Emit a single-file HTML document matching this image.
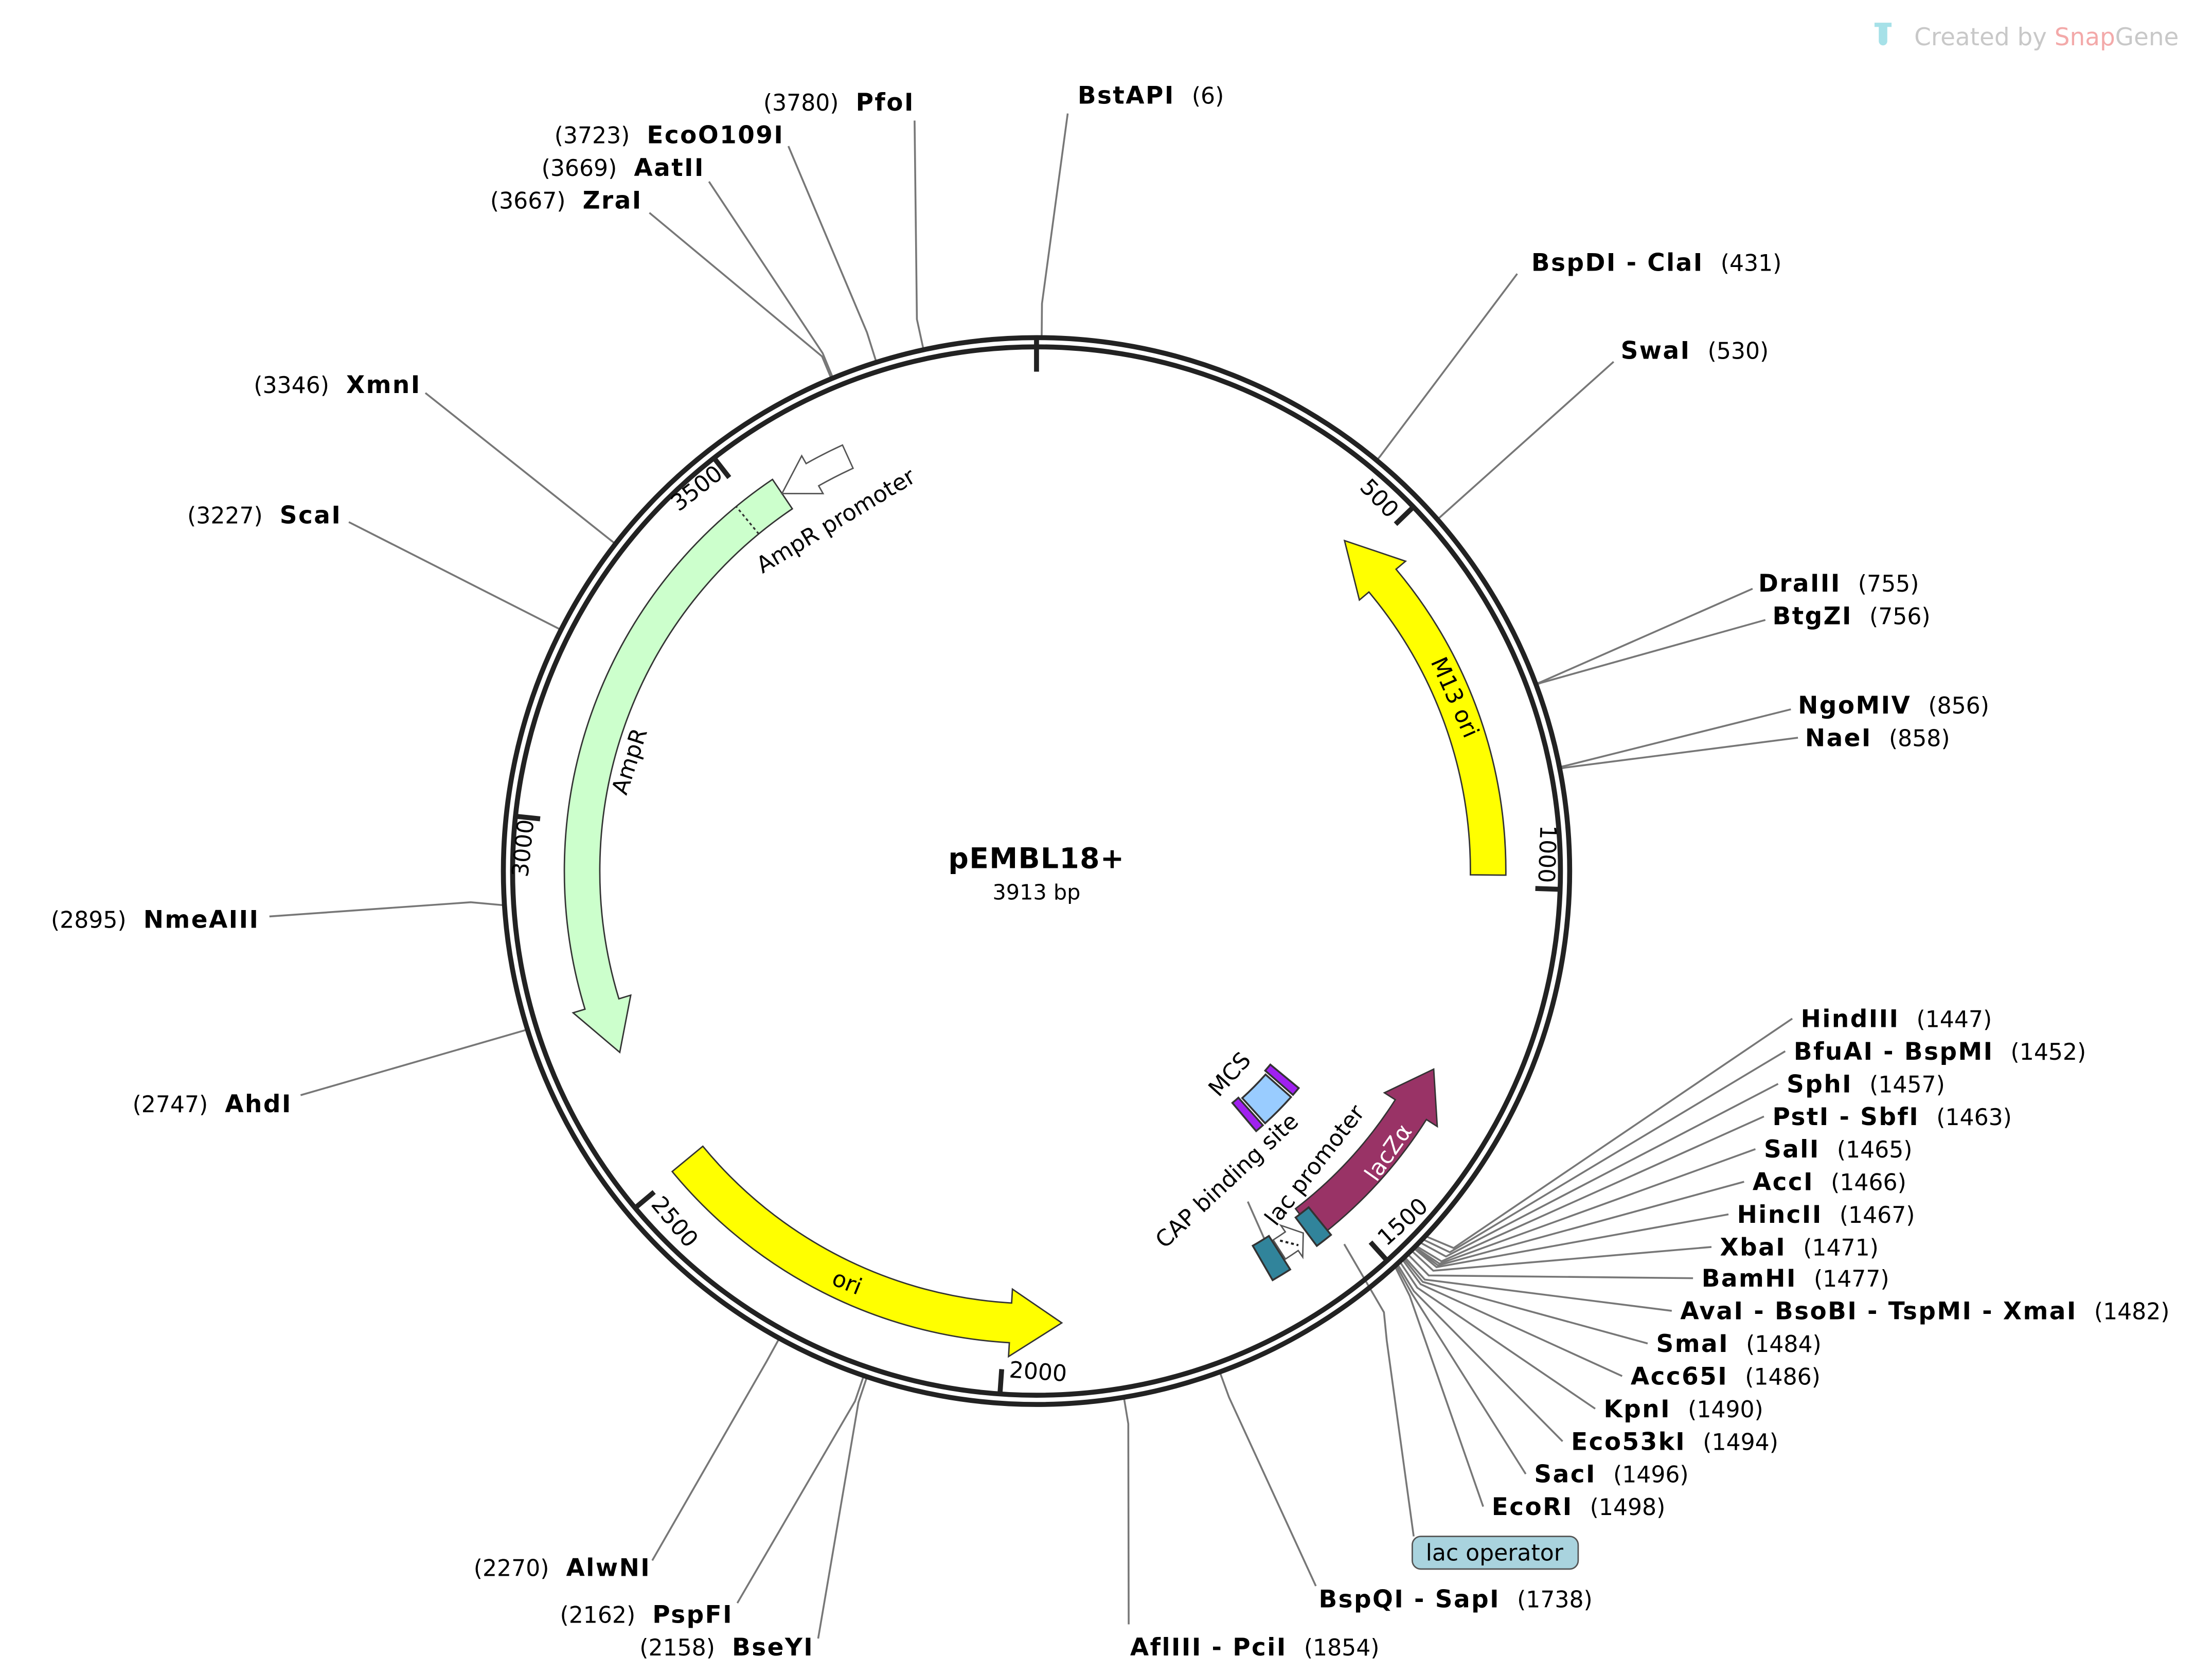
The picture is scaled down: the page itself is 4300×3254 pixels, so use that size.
<!DOCTYPE html>
<html><head><meta charset="utf-8">
<style>
html,body{margin:0;padding:0;background:#fff;}
svg{display:block;}
text{font-family:"DejaVu Sans","Liberation Sans",sans-serif;font-size:16px;fill:#000;}
.b{font-weight:bold;font-size:17px;letter-spacing:0.9px;}
</style></head>
<body>
<svg id="s" xmlns="http://www.w3.org/2000/svg" width="4300" height="3254" viewBox="0 0 1560 1180" preserveAspectRatio="none">
<rect width="1560" height="1180" fill="#fff"/>
<g id="lines" stroke="#777" stroke-width="1.3" fill="none"></g>
<circle cx="731" cy="614" r="376" fill="none" stroke="#222" stroke-width="3.5"/>
<circle cx="731" cy="614" r="369.5" fill="none" stroke="#222" stroke-width="3.5"/>
<g id="ticks" stroke="#222" stroke-width="3.5"></g>
<g id="feat"></g>

<text x="972" y="352" text-anchor="middle" dominant-baseline="middle" transform="rotate(46 972 352)">500</text>
<text x="1090" y="602" text-anchor="middle" dominant-baseline="middle" transform="rotate(92 1090 602)">1000</text>
<text x="990" y="862" text-anchor="middle" dominant-baseline="middle" transform="rotate(-42 990 862)">1500</text>
<text x="732" y="968" text-anchor="middle" dominant-baseline="middle" transform="rotate(4 732 968)">2000</text>
<text x="475" y="862" text-anchor="middle" dominant-baseline="middle" transform="rotate(50 475 862)">2500</text>
<text x="370" y="598" text-anchor="middle" dominant-baseline="middle" transform="rotate(-84 370 598)">3000</text>
<text x="492" y="345" text-anchor="middle" dominant-baseline="middle" transform="rotate(-38 492 345)">3500</text>

<text x="731" y="612" text-anchor="middle" style="font-size:20px;font-weight:bold;letter-spacing:0.5px">pEMBL18+</text>
<text x="731" y="634" text-anchor="middle" style="font-size:15px">3913 bp</text>

<g id="lab2">
<text x="1025" y="492" text-anchor="middle" dominant-baseline="middle" transform="rotate(66 1025 492)">M13 ori</text>
<text x="597" y="905" text-anchor="middle" dominant-baseline="middle" transform="rotate(22 597 905)">ori</text>
<text x="445" y="537" text-anchor="middle" dominant-baseline="middle" transform="rotate(-72 445 537)">AmpR</text>
<text x="590" y="368" text-anchor="middle" dominant-baseline="middle" transform="rotate(-31 590 368)">AmpR promoter</text>
<text x="980" y="813" text-anchor="middle" dominant-baseline="middle" transform="rotate(-55 980 813)" style="fill:#fff">lacZα</text>
<text x="868" y="758" text-anchor="middle" dominant-baseline="middle" transform="rotate(-48 868 758)">MCS</text>
<text x="866" y="833" text-anchor="middle" dominant-baseline="middle" transform="rotate(-43 866 833)">CAP binding site</text>
<text x="928" y="822" text-anchor="middle" dominant-baseline="middle" transform="rotate(-52 928 822)">lac promoter</text>
</g>

<rect x="996" y="1083" width="117" height="23" rx="6" fill="#a9d3de" stroke="#555" stroke-width="1"/>
<text x="1054" y="1100" text-anchor="middle">lac operator</text>

<g id="labs"></g>

<g transform="translate(1322,16)">
<path d="M0 0h12v3h-3v10a3 3 0 0 1-6 0V3H0z" fill="#a6e1e8"/>
</g>
<text x="1350" y="32" style="font-size:17px;fill:#c8c8c8">Created by <tspan style="fill:#f3a9a9">Snap</tspan><tspan style="fill:#c8c8c8">Gene</tspan></text>
</svg>
<script>
var NS="http://www.w3.org/2000/svg",cx=731,cy=614;
function P(r,a){a=a*Math.PI/180;return [cx+r*Math.sin(a),cy-r*Math.cos(a)];}
function ang(pos){return pos/3913*360;}
function el(t,attrs,parent){var e=document.createElementNS(NS,t);for(var k in attrs)e.setAttribute(k,attrs[k]);document.getElementById(parent).appendChild(e);return e;}
function f(p){return p[0].toFixed(2)+" "+p[1].toFixed(2);}
[0,500,1000,1500,2000,2500,3000,3500].forEach(function(p){var a=ang(p);var r1=p==0?377:369,r2=352;
 var A=P(r1,a),B=P(r2,a);el("line",{x1:A[0],y1:A[1],x2:B[0],y2:B[1]},"ticks");});
function arrow(rIn,rOut,tail,tip,head,fill,stroke){
 var s=tip>tail?1:-1,hb=tip-s*head,w=rOut-rIn,ext=w*0.35,rm=(rIn+rOut)/2,sw=s>0?1:0,sw2=s>0?0:1;
 var d="M"+f(P(rOut,tail))+" A"+rOut+" "+rOut+" 0 0 "+sw+" "+f(P(rOut,hb))+" L"+f(P(rOut+ext,hb))+" L"+f(P(rm,tip))+" L"+f(P(rIn-ext,hb))+" L"+f(P(rIn,hb))+" A"+rIn+" "+rIn+" 0 0 "+sw2+" "+f(P(rIn,tail))+"Z";
 return el("path",{d:d,fill:fill,stroke:stroke||"#333","stroke-width":1},"feat");}
function block(rIn,rOut,a1,a2,fill){
 var d="M"+f(P(rOut,a1))+" A"+rOut+" "+rOut+" 0 0 1 "+f(P(rOut,a2))+" L"+f(P(rIn,a2))+" A"+rIn+" "+rIn+" 0 0 0 "+f(P(rIn,a1))+"Z";
 el("path",{d:d,fill:fill,stroke:"#333","stroke-width":1.3},"feat");}
arrow(306,331,90.5,43,7,"#ffff00");
arrow(305,333,230.5,176.8,6.5,"#ffff00");
arrow(308,333,326,246.5,6.5,"#ccffcc");
var d1=P(308,320.5),d2=P(333,320.5);el("line",{x1:d1[0],y1:d1[1],x2:d2[0],y2:d2[1],stroke:"#333","stroke-dasharray":"2,2","stroke-width":1.2},"feat");
arrow(312,330,335.5,326,4.5,"#ffffff","#555");
arrow(300,326,142.5,116.5,6,"#993366","#333");
block(305,333,147.5,150.0,"#31849b");
block(305,330,141.0,143.2,"#31849b");
arrow(309,325,147.3,143.6,1.8,"#fff","#555");
var e1=P(312,146.6),e2=P(322,145.0);el("line",{x1:e1[0],y1:e1[1],x2:e2[0],y2:e2[1],stroke:"#222","stroke-dasharray":"2,2","stroke-width":1.5},"feat");
block(216,240,131.6,137.8,"#99ccff");
block(214,240,138.3,139.8,"#a020f0");
block(214,240,129.6,131.1,"#a020f0");
function L(pts){var d="M"+pts.map(function(p){return p[0]+" "+p[1];}).join(" L");el("path",{d:d},"lines");}
L([[880,847],[892,874]]);
L([[948,877],[976,925],[978,945],[997,1083]]);
function lab(cp,e2,end,x,y,parts,anchor){L([cp,e2,end]);var at={x:x,y:y};if(anchor)at["text-anchor"]=anchor;var t=el("text",at,"labs");
 parts.forEach(function(p,i){var ts=document.createElementNS(NS,"tspan");if(p[1])ts.setAttribute("class","b");if(i>0)ts.setAttribute("dx","12");ts.textContent=p[0];t.appendChild(ts);});}
function cpt(pos,r){return P(r||377,ang(pos));}
function A(n,b){return [[n,0],[b,1]];}
function B(b,n){return [[b,1],[n,0]];}
lab(cpt(3780),cpt(3780,398),[645,85],645,78,A("(3780)","PfoI"),"end");
lab(cpt(3723),cpt(3723,398),[556,103],553,101,A("(3723)","EcoO109I"),"end");
lab(cpt(3669),cpt(3669,395),[500,128],497,124,A("(3669)","AatII"),"end");
lab(cpt(3667),cpt(3667,393),[458,150],453,147,A("(3667)","ZraI"),"end");
lab(cpt(6),cpt(6,400),[753,80],760,73,B("BstAPI","(6)"));
lab(cpt(431),cpt(431,380),[1070,193],1080,191,B("BspDI - ClaI","(431)"));
lab(cpt(530),cpt(530,380),[1138,255],1143,253,B("SwaI","(530)"));
lab(cpt(755),cpt(755,380),[1236,415],1240,417,B("DraIII","(755)"));
lab(cpt(756),cpt(756,380),[1245,437],1250,440,B("BtgZI","(756)"));
lab(cpt(856),cpt(856,380),[1263,500],1268,503,B("NgoMIV","(856)"));
lab(cpt(858),cpt(858,380),[1268,520],1273,526,B("NaeI","(858)"));
lab(cpt(3346),cpt(3346,380),[300,277],297,277,A("(3346)","XmnI"),"end");
lab(cpt(3227),cpt(3227,380),[246,368],241,369,A("(3227)","ScaI"),"end");
lab(cpt(2895),[332,636],[190,646],183,654,A("(2895)","NmeAIII"),"end");
lab(cpt(2747),cpt(2747,380),[212,772],206,784,A("(2747)","AhdI"),"end");
lab(cpt(2270),cpt(2270,395),[460,1100],459,1111,A("(2270)","AlwNI"),"end");
lab(cpt(2162),cpt(2162,395),[520,1130],517,1144,A("(2162)","PspFI"),"end");
lab(cpt(2158),cpt(2158,395),[577,1155],574,1167,A("(2158)","BseYI"),"end");
lab(cpt(1854),cpt(1854,395),[796,1145],797,1167,B("AflIII - PciI","(1854)"));
lab(cpt(1738),cpt(1738,395),[928,1118],930,1133,B("BspQI - SapI","(1738)"));
var R=[["HindIII","(1447)",1447,1270,724],["BfuAI - BspMI","(1452)",1452,1265,747],["SphI","(1457)",1457,1260,770],["PstI - SbfI","(1463)",1463,1250,793],["SalI","(1465)",1465,1244,816],["AccI","(1466)",1466,1236,839],["HincII","(1467)",1467,1225,862],["XbaI","(1471)",1471,1213,885],["BamHI","(1477)",1477,1200,907],["AvaI - BsoBI - TspMI - XmaI","(1482)",1482,1185,930],["SmaI","(1484)",1484,1168,953],["Acc65I","(1486)",1486,1150,976],["KpnI","(1490)",1490,1131,999],["Eco53kI","(1494)",1494,1108,1022],["SacI","(1496)",1496,1082,1045],["EcoRI","(1498)",1498,1052,1068]];
R.forEach(function(r,i){var a=ang(r[2]);var c=P(377,a);var e=[c[0]+10+(15-i)*0.6,c[1]+8+i*0.8];
 lab(c,e,[r[3]-6,r[4]-6],r[3],r[4],B(r[0],r[1]));});
</script>
</body></html>
